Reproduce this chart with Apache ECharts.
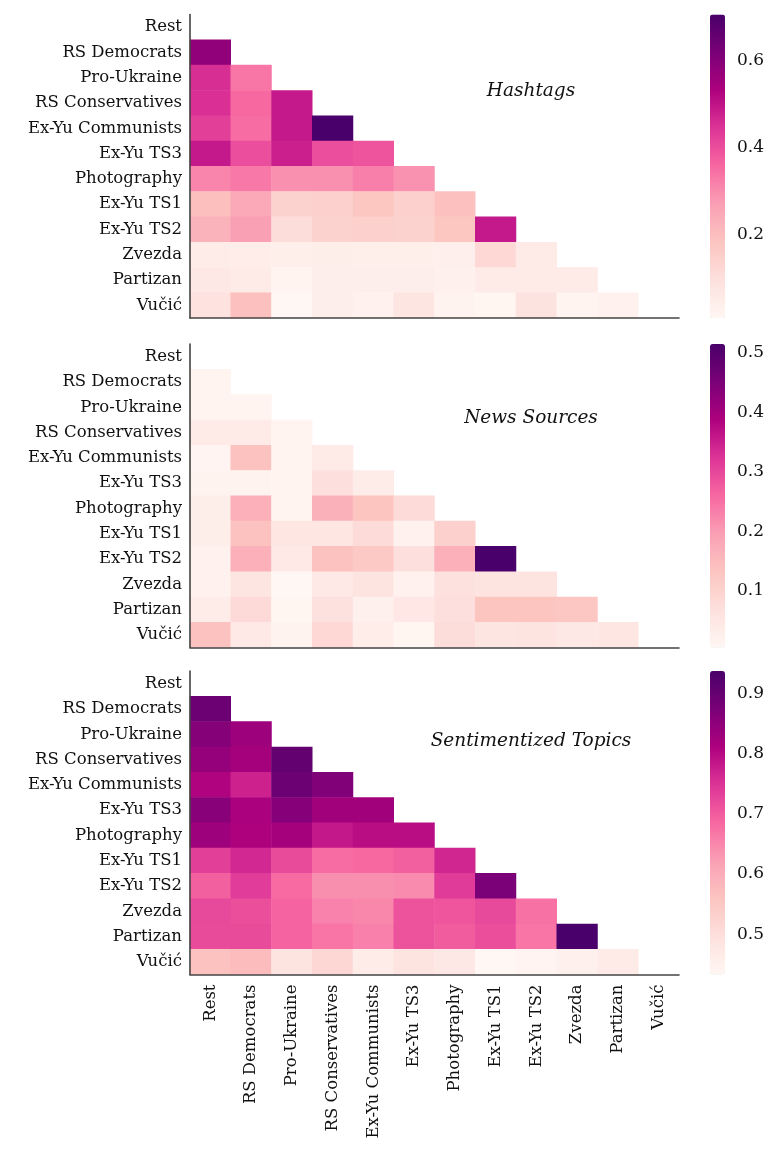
<!DOCTYPE html>
<html><head><meta charset="utf-8">
<script src="https://cdn.jsdelivr.net/npm/echarts@6/dist/echarts.min.js"></script>
<style>html,body{margin:0;padding:0;background:#fff}#c{width:771px;height:1151px}</style>
</head><body><div id="c"></div>
<script>
const categories = ['Rest','RS Democrats','Pro-Ukraine','RS Conservatives','Ex-Yu Communists','Ex-Yu TS3','Photography','Ex-Yu TS1','Ex-Yu TS2','Zvezda','Partizan','Vučić'];

const panelTitles = ['Hashtags','News Sources','Sentimentized Topics'];

// lower-triangle rows: row i holds values for columns 0..i-1
const hashtags = [
  [],
  [0.58],
  [0.455,0.335],
  [0.45,0.357,0.49],
  [0.426,0.35,0.49,0.706],
  [0.49,0.40,0.48,0.40,0.39],
  [0.31,0.33,0.293,0.293,0.32,0.29],
  [0.196,0.245,0.14,0.147,0.18,0.147,0.19],
  [0.224,0.266,0.105,0.14,0.147,0.14,0.18,0.49],
  [0.05,0.045,0.038,0.042,0.038,0.038,0.036,0.12,0.056],
  [0.063,0.056,0.017,0.04,0.04,0.04,0.035,0.056,0.056,0.056],
  [0.087,0.19,0.007,0.04,0.028,0.077,0.024,0.014,0.084,0.017,0.028]
];

const newsSources = [
  [],
  [0.013],
  [0.013,0.013],
  [0.04,0.04,0.013],
  [0.012,0.138,0.013,0.04],
  [0.015,0.015,0.013,0.069,0.036],
  [0.03,0.168,0.013,0.166,0.133,0.08],
  [0.03,0.138,0.05,0.05,0.08,0.02,0.107],
  [0.02,0.168,0.043,0.137,0.122,0.069,0.168,0.515],
  [0.02,0.056,0.005,0.043,0.058,0.02,0.066,0.058,0.058],
  [0.035,0.082,0.008,0.066,0.025,0.048,0.069,0.133,0.133,0.127],
  [0.137,0.043,0.015,0.087,0.033,0.009,0.076,0.056,0.058,0.046,0.05]
];

const sentimentTopics = [
  [],
  [0.892],
  [0.861,0.83],
  [0.841,0.821,0.902],
  [0.808,0.77,0.892,0.866],
  [0.856,0.814,0.859,0.826,0.826],
  [0.83,0.811,0.821,0.783,0.796,0.796],
  [0.735,0.763,0.72,0.68,0.685,0.695,0.765],
  [0.695,0.738,0.683,0.64,0.64,0.645,0.74,0.874],
  [0.723,0.715,0.69,0.655,0.65,0.71,0.708,0.723,0.675],
  [0.72,0.72,0.69,0.67,0.657,0.71,0.7,0.715,0.67,0.937],
  [0.564,0.574,0.486,0.516,0.463,0.486,0.473,0.433,0.44,0.453,0.466]
];

const colorbarTicks = [[0.2,0.4,0.6],[0.1,0.2,0.3,0.4,0.5],[0.5,0.6,0.7,0.8,0.9]];

const matrices = [hashtags, newsSources, sentimentTopics];
const RdPu = ['#fff7f3','#fde0dd','#fcc5c0','#fa9fb5','#f768a1','#dd3497','#ae017e','#7a0177','#49006a'];
const FONT = 'DejaVu Serif';

const gridTops = [14.5, 344, 671];
const gridH = 303.5;
const gridLeft = 190, gridW = 489;
const cbLeft = 710, cbW = 15;

function toCells(m){
  const out=[];
  m.forEach((row,i)=>row.forEach((v,j)=>out.push([j,i,v])));
  return out;
}

const ranges = matrices.map(m=>{const f=[].concat(...m);return [Math.min(...f),Math.max(...f)];});
const grid=[], xAxis=[], yAxis=[], series=[], visualMap=[], graphic=[];
matrices.forEach((m,k)=>{
  grid.push({left:gridLeft, top:gridTops[k], width:gridW, height:gridH});
  xAxis.push({type:'category', gridIndex:k, data:categories, z:5,
    axisLine:{lineStyle:{color:'#444',width:1.6}}, axisTick:{show:false},
    axisLabel:{show:k===2, rotate:90, margin:10, fontFamily:FONT, fontSize:16.5, color:'#111', padding:[0,0,3,0]},
    splitArea:{show:false}, splitLine:{show:false}});
  yAxis.push({type:'category', gridIndex:k, data:categories, inverse:true, z:5,
    axisLine:{lineStyle:{color:'#444',width:1.6}}, axisTick:{show:false},
    axisLabel:{margin:8, fontFamily:FONT, fontSize:16.5, color:'#111', padding:[5,0,0,0]},
    splitArea:{show:false}, splitLine:{show:false}});
  series.push({type:'heatmap', xAxisIndex:k, yAxisIndex:k, data:toCells(m), z:1,
    itemStyle:{borderWidth:0}, emphasis:{disabled:true}});
  visualMap.push({type:'continuous', seriesIndex:k, min:ranges[k][0], max:ranges[k][1],
    inRange:{color:RdPu}, calculable:false, orient:'vertical',
    left:cbLeft, top:gridTops[k], itemWidth:cbW, itemHeight:gridH, padding:0,
    text:null, hoverLink:false});
  graphic.push({type:'text', style:{x:531, y:[91,418,741][k], text:panelTitles[k],
    textAlign:'center', textVerticalAlign:'middle', font:'italic 18.5px "'+FONT+'"', fill:'#111'}});
});
matrices.forEach((m,k)=>{
  const gi=3+k;
  grid.push({left:cbLeft, top:gridTops[k], width:cbW, height:gridH});
  xAxis.push({type:'value', gridIndex:gi, show:false, min:0, max:1});
  yAxis.push({type:'value', gridIndex:gi, position:'right', min:ranges[k][0], max:ranges[k][1],
    axisLine:{show:false}, splitLine:{show:false},
    axisTick:{show:true, length:7, lineStyle:{color:'#222',width:1.3}, customValues:colorbarTicks[k]},
    axisLabel:{customValues:colorbarTicks[k], margin:12, fontFamily:FONT, fontSize:17, color:'#111',
      padding:[3,0,0,0], formatter:v=>v.toFixed(1)}});
});

const chart=echarts.init(document.getElementById('c'),null,{renderer:'canvas'});
chart.setOption({animation:false, backgroundColor:'#fff', grid, xAxis, yAxis, series, visualMap, graphic});
</script></body></html>
